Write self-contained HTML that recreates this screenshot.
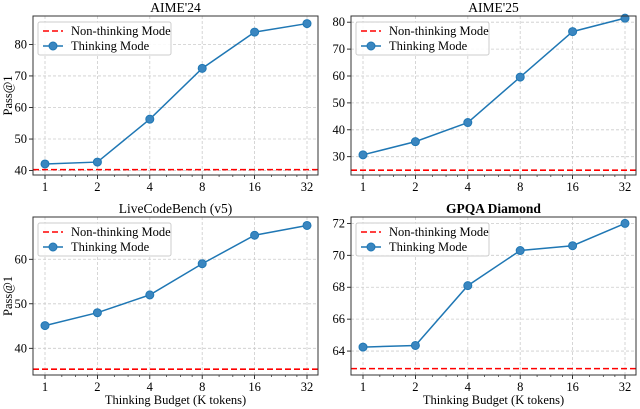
<!DOCTYPE html>
<html><head><meta charset="utf-8"><style>
body{margin:0;background:#fff;}
svg{display:block;font-family:"Liberation Serif",serif;}
</style></head><body>
<svg id="c" width="640" height="409" viewBox="0 0 640 409" xmlns="http://www.w3.org/2000/svg"></svg>
<script>
const budgets = ["1","2","4","8","16","32"];
const titles = ["AIME'24","AIME'25","LiveCodeBench (v5)","GPQA Diamond"];
const aime24 = [42.1,42.7,56.3,72.4,83.9,86.6];
const aime25 = [30.7,35.6,42.7,59.6,76.5,81.5];
const lcb = [45.1,48.0,52.0,59.0,65.4,67.6];
const gpqa = [64.25,64.35,68.1,70.3,70.6,72.0];
const baselines = [40.3,25.0,35.3,62.9];
const yTicks = [[40,50,60,70,80],[30,40,50,60,70,80],[40,50,60],[64,66,68,70,72]];
const yRanges = [[38.6,89],[23.2,82.3],[34.0,69.5],[62.5,72.4]];
const series = [aime24,aime25,lcb,gpqa];

const svg = document.getElementById('c');
const NS = "http://www.w3.org/2000/svg";
function mk(tag, attrs, parent){const e=document.createElementNS(NS,tag);for(const k in attrs)e.setAttribute(k,attrs[k]);(parent||svg).appendChild(e);return e;}
const boxes = [[33,318,16,175],[351,636,16,175],[33,318,217,375],[351,636,217,375]];
const names = ["aime24","aime25","livecodebench","gpqa"];
for(let p=0;p<4;p++){
  const [L,R,T,B]=boxes[p];
  const g=mk('g',{});
  
  
  const x0=L+12, x1=R-11;
  const xs=i=>x0+(x1-x0)*i/(budgets.length-1);
  const [ymin,ymax]=yRanges[p];
  const ys=v=>B-(v-ymin)/(ymax-ymin)*(B-T);
  budgets.forEach((b,i)=>{
    mk('line',{x1:xs(i),x2:xs(i),y1:T,y2:B,stroke:'#ccc','stroke-dasharray':'3,2','stroke-width':0.8},g);
    mk('line',{x1:xs(i),x2:xs(i),y1:B,y2:B+4,stroke:'#000','stroke-width':0.8},g);
    const t=mk('text',{x:xs(i),y:B+16,'text-anchor':'middle','font-size':12.5},g);t.textContent=b;
    
    
    if(i<budgets.length-1){for(const f of [1.25,1.5,1.75]){const xm=xs(i)+Math.log2(f)*(xs(i+1)-xs(i));mk('line',{x1:xm,x2:xm,y1:B,y2:B+2,stroke:'#000','stroke-width':0.6},g);}}
  });
  yTicks[p].forEach(v=>{
    mk('line',{x1:L,x2:R,y1:ys(v),y2:ys(v),stroke:'#ccc','stroke-dasharray':'3,2','stroke-width':0.8},g);
    mk('line',{x1:L-4,x2:L,y1:ys(v),y2:ys(v),stroke:'#000','stroke-width':0.8},g);
    const t=mk('text',{x:L-6,y:ys(v)+4,'text-anchor':'end','font-size':12.5},g);t.textContent=v;
    
    
  });
  const bl=mk('line',{x1:L,x2:R,y1:ys(baselines[p]),y2:ys(baselines[p]),stroke:'#ff0000','stroke-width':1.6,'stroke-dasharray':'6,3'},g);
  
  
  const pts=series[p].map((v,i)=>xs(i)+','+ys(v)).join(' ');
  const pl=mk('polyline',{points:pts,fill:'none',stroke:'#1f77b4','stroke-width':1.5},g);
  
  
  series[p].forEach((v,i)=>{
    const c=mk('circle',{cx:xs(i),cy:ys(v),r:4,fill:'#3a86c0',stroke:'#1f77b4','stroke-width':1},g);
    
    
  });
  mk('rect',{x:L,y:T,width:R-L,height:B-T,fill:'none',stroke:'#333','stroke-width':1},g);
  const tt=mk('text',{x:(L+R)/2,y:T-4,'text-anchor':'middle','font-size':13.5,'font-weight':p===3?'bold':'normal'},g);tt.textContent=titles[p];
  
  
  const lg=mk('g',{},g);
  
  
  mk('rect',{x:L+5,y:T+6,width:133,height:33,fill:'#fff','fill-opacity':0.85,stroke:'#ccc',rx:2},lg);
  mk('line',{x1:L+10,x2:L+30,y1:T+15,y2:T+15,stroke:'#ff0000','stroke-width':1.6,'stroke-dasharray':'6,3'},lg);
  let t1=mk('text',{x:L+38,y:T+19,'font-size':12.5},lg);t1.textContent='Non-thinking Mode';
  mk('line',{x1:L+10,x2:L+30,y1:T+30,y2:T+30,stroke:'#1f77b4','stroke-width':1.5},lg);
  mk('circle',{cx:L+20,cy:T+30,r:4,fill:'#3a86c0',stroke:'#1f77b4'},lg);
  let t2=mk('text',{x:L+38,y:T+34,'font-size':12.5},lg);t2.textContent='Thinking Mode';
  if(p%2===0){const yl=mk('text',{x:0,y:0,'text-anchor':'middle','font-size':12.5,transform:`translate(12,${(T+B)/2}) rotate(-90)`},g);yl.textContent='Pass@1';
    
    }
  if(p>=2){const xl=mk('text',{x:(L+R)/2,y:404,'text-anchor':'middle','font-size':12.5},g);xl.textContent='Thinking Budget (K tokens)';
    
    }
}
</script>
</body></html>
